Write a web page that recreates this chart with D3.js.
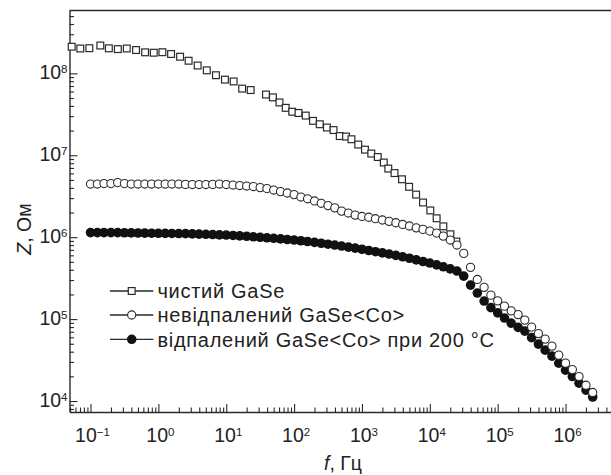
<!DOCTYPE html>
<html><head><meta charset="utf-8">
<script src="https://cdn.jsdelivr.net/npm/d3@7"></script>
<style>
html,body{margin:0;padding:0;background:#fff;}
svg{display:block;}
text{font-family:"Liberation Sans", Arial, Helvetica, sans-serif; fill:#222;}
</style></head><body>
<svg id="chart" width="611" height="475"></svg>
<script>
// ---- data (frequency in Hz, |Z| in Ohm) ----
const freqPure = [0.0528,0.0707,0.096,0.1395,0.1862,0.2527,0.342,0.469,0.637,0.855,
  1.146,1.539,2.09,2.79,3.79,5.17,7.05,9.57,12.86,17.16,22.9,38.5,48.7,60.9,75.2,93.8,
  116.1,148.3,190,238.6,304.6,381,470.6,583,700,882,1107,1372,1710,2097,2443,3017,3890,
  4950,6280,7940,10170,12600,15820,20060,24600];
const zPure = [2.113e8,2.009e8,2.026e8,2.185e8,2.020e8,1.975e8,2.009e8,1.925e8,1.805e8,1.785e8,
  1.810e8,1.721e8,1.595e8,1.425e8,1.245e8,1.088e8,9.48e7,8.38e7,7.96e7,6.51e7,6.25e7,5.51e7,5.09e7,4.41e7,3.79e7,3.40e7,
  3.28e7,3.05e7,2.63e7,2.39e7,2.18e7,2.03e7,1.715e7,1.692e7,1.568e7,1.351e7,1.171e7,1.049e7,9.51e6,8.15e6,6.88e6,6.06e6,5.09e6,
  4.12e6,3.31e6,2.65e6,2.12e6,1.70e6,1.355e6,1.085e6,8.84e5];

const freqCo = [0.1,0.126,0.158,0.2,0.251,0.316,0.398,0.501,0.631,0.794,
  1,1.26,1.58,2,2.51,3.16,3.98,5.01,6.31,7.94,
  10,12.6,15.8,20,25.1,31.6,39.8,50.1,63.1,79.4,
  100,126,158,200,251,316,398,501,631,794,
  1e3,1.26e3,1.58e3,2e3,2.51e3,3.16e3,3.98e3,5.01e3,6.31e3,7.94e3,
  1e4,1.26e4,1.58e4,2e4,2.51e4,3.16e4,3.98e4,5.01e4,6.31e4,7.94e4,
  1e5,1.26e5,1.58e5,2e5,2.51e5,3.16e5,3.98e5,5.01e5,6.31e5,7.94e5,
  1e6,1.26e6,1.58e6,2e6,2.51e6];
const zUnannealed = [4.45e6,4.45e6,4.51e6,4.51e6,4.64e6,4.51e6,4.45e6,4.45e6,4.45e6,4.45e6,
  4.45e6,4.45e6,4.45e6,4.45e6,4.41e6,4.39e6,4.39e6,4.39e6,4.41e6,4.45e6,
  4.39e6,4.33e6,4.27e6,4.21e6,4.15e6,4.03e6,3.92e6,3.76e6,3.60e6,3.46e6,
  3.31e6,3.09e6,2.94e6,2.77e6,2.59e6,2.43e6,2.28e6,2.08e6,1.97e6,1.86e6,
  1.79e6,1.75e6,1.68e6,1.62e6,1.56e6,1.50e6,1.43e6,1.37e6,1.30e6,1.245e6,
  1.187e6,1.122e6,1.031e6,9.22e5,8.01e5,6.34e5,4.28e5,3.05e5,2.44e5,1.96e5,
  1.67e5,1.44e5,1.26e5,1.135e5,9.72e4,7.99e4,6.65e4,5.70e4,4.68e4,3.63e4,
  2.90e4,2.42e4,1.99e4,1.56e4,1.27e4];
const zAnnealed = [1.138e6,1.138e6,1.138e6,1.138e6,1.135e6,1.132e6,1.128e6,1.125e6,1.122e6,1.119e6,
  1.116e6,1.113e6,1.110e6,1.107e6,1.104e6,1.097e6,1.091e6,1.085e6,1.076e6,1.067e6,
  1.061e6,1.049e6,1.037e6,1.026e6,1.011e6,9.97e5,9.83e5,9.69e5,9.53e5,9.37e5,
  9.22e5,9.04e5,8.84e5,8.64e5,8.43e5,8.21e5,8.01e5,7.79e5,7.57e5,7.36e5,
  7.12e5,6.88e5,6.65e5,6.43e5,6.22e5,5.99e5,5.76e5,5.53e5,5.28e5,5.05e5,
  4.83e5,4.59e5,4.35e5,4.10e5,3.86e5,3.35e5,2.60e5,2.08e5,1.66e5,1.38e5,
  1.19e5,1.03e5,8.94e4,7.92e4,7.14e4,5.94e4,4.95e4,4.18e4,3.53e4,2.90e4,
  2.38e4,1.99e4,1.65e4,1.36e4,1.12e4];

const xTickExponents = [-1,0,1,2,3,4,5,6];
const yTickExponents = [4,5,6,7,8];
const legendLabels = ["чистий GaSe","невідпалений GaSe<Co>","відпалений GaSe<Co> при 200 °C"];
const xTitleParts = ["f", ", Гц"];
const yTitleParts = ["Z", ", Ом"];

// ---- layout ----
const svg = d3.select("#chart");
const L = 69.5, R = 616, T = 10.5, B = 412;
const x = d3.scaleLog().domain([Math.pow(10,-1.3097), Math.pow(10,6.7434)]).range([L, R]);
const y = d3.scaleLog().domain([Math.pow(10,3.866), Math.pow(10,8.767)]).range([B, T]);
const ink = "#2a2a2a";
const fontSize = 19.5, supSize = 11.5;

function minorTicks(scale, e0, e1){
  const [a,b] = scale.domain(), out=[];
  for(let e=e0;e<=e1;e++) for(let m=2;m<=9;m++){const v=m*Math.pow(10,e); if(v>=a&&v<=b) out.push(v);}
  return out;
}
function styleAxis(g){
  g.selectAll(".domain").attr("stroke", ink).attr("stroke-width",1.4);
  g.selectAll(".tick line").attr("stroke", ink).attr("stroke-width",1.1);
  g.selectAll(".tick text").remove();
}

// x axis
const gx = svg.append("g").attr("transform",`translate(0,${B})`);
gx.call(d3.axisBottom(x).tickValues(xTickExponents.map(e=>Math.pow(10,e))).tickSize(-8).tickSizeOuter(0));
styleAxis(gx);
const gxm = svg.append("g").attr("transform",`translate(0,${B})`);
gxm.call(d3.axisBottom(x).tickValues(minorTicks(x,-2,6)).tickSize(-4.5).tickSizeOuter(0));
gxm.select(".domain").remove(); styleAxis(gxm);

// y axis
const gy = svg.append("g").attr("transform",`translate(${L},0)`);
gy.call(d3.axisLeft(y).tickValues(yTickExponents.map(e=>Math.pow(10,e))).tickSize(-8).tickSizeOuter(0));
styleAxis(gy);
const gym = svg.append("g").attr("transform",`translate(${L},0)`);
gym.call(d3.axisLeft(y).tickValues(minorTicks(y,3,8)).tickSize(-4.5).tickSizeOuter(0));
gym.select(".domain").remove(); styleAxis(gym);

// top frame line
svg.append("line").attr("x1",L).attr("x2",R).attr("y1",T).attr("y2",T)
  .attr("stroke",ink).attr("stroke-width",1.4);

// tick labels
const xl = svg.append("g");
xTickExponents.forEach(e=>{
  const t = xl.append("text").attr("x", x(Math.pow(10,e))+2).attr("y",441.5)
    .attr("text-anchor","middle").attr("font-size",fontSize);
  t.append("tspan").text("10");
  t.append("tspan").attr("font-size",supSize).attr("dy",-6).text(e<0?"\u2212"+(-e):String(e));
});
const yl = svg.append("g");
yTickExponents.forEach(e=>{
  const t = yl.append("text").attr("x", 67.5).attr("y", y(Math.pow(10,e))+6)
    .attr("text-anchor","end").attr("font-size",fontSize);
  t.append("tspan").text("10");
  t.append("tspan").attr("font-size",supSize).attr("dy",-6).text(String(e));
});

// axis titles
const xt = svg.append("text").attr("x",343).attr("y",470).attr("text-anchor","middle").attr("font-size",fontSize);
xt.append("tspan").attr("font-style","italic").text(xTitleParts[0]);
xt.append("tspan").text(xTitleParts[1]);
const yt = svg.append("text").attr("transform","translate(31,229) rotate(-90)").attr("text-anchor","middle").attr("font-size",fontSize);
yt.append("tspan").attr("font-style","italic").text(yTitleParts[0]);
yt.append("tspan").text(yTitleParts[1]);

// ---- data marks ----
const sq = 6.8, rOpen = 4.1, rFill = 4.8;
svg.append("g").selectAll("rect").data(d3.zip(freqPure, zPure)).join("rect")
  .attr("x", d=>x(d[0])-sq/2).attr("y", d=>y(d[1])-sq/2).attr("width",sq).attr("height",sq)
  .attr("fill","#fff").attr("stroke",ink).attr("stroke-width",1.2);
svg.append("g").selectAll("circle").data(d3.zip(freqCo, zAnnealed)).join("circle")
  .attr("cx", d=>x(d[0])).attr("cy", d=>y(d[1])).attr("r",rFill).attr("fill","#111");
svg.append("g").selectAll("circle").data(d3.zip(freqCo, zUnannealed)).join("circle")
  .attr("cx", d=>x(d[0])).attr("cy", d=>y(d[1])).attr("r",rOpen)
  .attr("fill","#fff").attr("stroke",ink).attr("stroke-width",1.1);

// ---- legend ----
const lg = svg.append("g");
const rowsY = [291, 315, 339.3];
legendLabels.forEach((lab,i)=>{
  const cy = rowsY[i];
  lg.append("line").attr("x1",110).attr("x2",153.3).attr("y1",cy).attr("y2",cy).attr("stroke",ink).attr("stroke-width",1.3);
  if(i===0) lg.append("rect").attr("x",131.7-sq/2).attr("y",cy-sq/2).attr("width",sq).attr("height",sq)
      .attr("fill","#fff").attr("stroke",ink).attr("stroke-width",1.2);
  else if(i===1) lg.append("circle").attr("cx",131.7).attr("cy",cy).attr("r",rOpen).attr("fill","#fff").attr("stroke",ink).attr("stroke-width",1.1);
  else lg.append("circle").attr("cx",131.7).attr("cy",cy).attr("r",rFill).attr("fill","#111");
  lg.append("text").attr("x",157.5).attr("y",cy+7.3).attr("font-size",20)
    .attr("letter-spacing","0.7px").text(lab);
});
</script>
</body></html>
